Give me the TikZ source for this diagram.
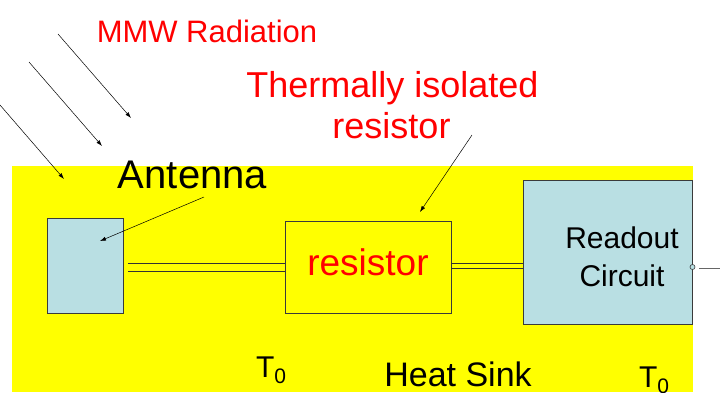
\documentclass[tikz,border=0pt]{standalone}
\usepackage{fontspec}
\setmainfont{Liberation Sans}
\usetikzlibrary{arrows.meta}
\definecolor{sinkyellow}{HTML}{FFFF00}
\definecolor{boxblue}{HTML}{B9DFE3}
\definecolor{edgegrey}{HTML}{3A3A3A}
\newcommand{\fs}[1]{\fontsize{#1}{#1}\selectfont}
\tikzset{
  bluebox/.style={draw=edgegrey, line width=0.8pt, fill=boxblue, inner sep=0pt},
  resbox/.style={draw=edgegrey, line width=0.8pt, inner sep=0pt},
  wire/.style={draw=black!80, line width=0.8pt},
  ray/.style={draw=black, line width=0.5pt, -{Latex[length=6pt,width=4pt]}},
  redtext/.style={text=red, inner sep=0pt, anchor=base},
  blktext/.style={text=black, inner sep=0pt, anchor=base},
}
\begin{document}
\begin{tikzpicture}[x=1pt, y=-1pt]
\useasboundingbox (0,0) rectangle (720,392);
% heat sink
\fill[sinkyellow] (12,166) rectangle (693,392);
% boxes
\node[bluebox, minimum width=76pt, minimum height=95pt] (ant) at (85,265.5) {};
\node[resbox, minimum width=166pt, minimum height=92pt] (res) at (368,267) {};
\node[bluebox, minimum width=169pt, minimum height=144pt] (ro) at (607.5,252) {};
% box texts
\node[redtext] (restxt) at (368,275) {\fs{37}resistor};
\node[blktext] (ro1) at (622,248) {\fs{30}Readout};
\node[blktext] (ro2) at (622,286) {\fs{30}Circuit};
% wires antenna - resistor
\draw[wire] ([xshift=5pt]ant.east |- 0,263) -- (res.west |- 0,263);
\draw[wire] ([xshift=5pt]ant.east |- 0,271.5) -- (res.west |- 0,271.5);
% wires resistor - readout
\draw[wire] (res.east |- 0,263.5) -- (ro.west |- 0,263.5);
\draw[wire] (res.east |- 0,268.5) -- (ro.west |- 0,268.5);
% output terminal
\node[circle, draw=edgegrey, fill=boxblue, line width=0.6pt, minimum size=5pt, inner sep=0pt] (term) at (692.5,267) {};
\coordinate (outend) at (720,268);
\draw[draw=black!60, line width=0.8pt] ([xshift=4pt]term.east |- outend) -- (outend);
% labels
\node[redtext] (mmw) at (207,42) {\fs{31}MMW Radiation};
\node[redtext] (thl1) at (392.5,97) {\fs{36}Thermally isolated};
\node[redtext] (thl2) at (391.5,138) {\fs{36}resistor};
\node[blktext] (anttxt) at (192.5,188) {\fs{40}Antenna};
\node[blktext] (t0a) at (271,377) {\fs{30}T\raisebox{-6pt}{\fs{21}0}};
\node[blktext] (hs) at (458,386) {\fs{34}Heat Sink};
\node[blktext] (t0b) at (654,387) {\fs{30}T\raisebox{-6pt}{\fs{21}0}};
% radiation rays
\coordinate (r1s) at (58,34);  \coordinate (r1e) at (131,118);
\coordinate (r2s) at (29,62);  \coordinate (r2e) at (102,146);
\coordinate (r3s) at (0,105);  \coordinate (r3e) at (64,179);
\draw[ray] (r1s) -- (r1e);
\draw[ray] (r2s) -- (r2e);
\draw[ray] (r3s) -- (r3e);
% pointers
\coordinate (antptr) at (204,197);
\coordinate (antin) at (100,241);
\draw[ray] (antptr) -- (antin);
\coordinate (resptr) at (472,135);
\coordinate (resin) at (420,212);
\draw[ray] (resptr) -- (resin);
\end{tikzpicture}
\end{document}
